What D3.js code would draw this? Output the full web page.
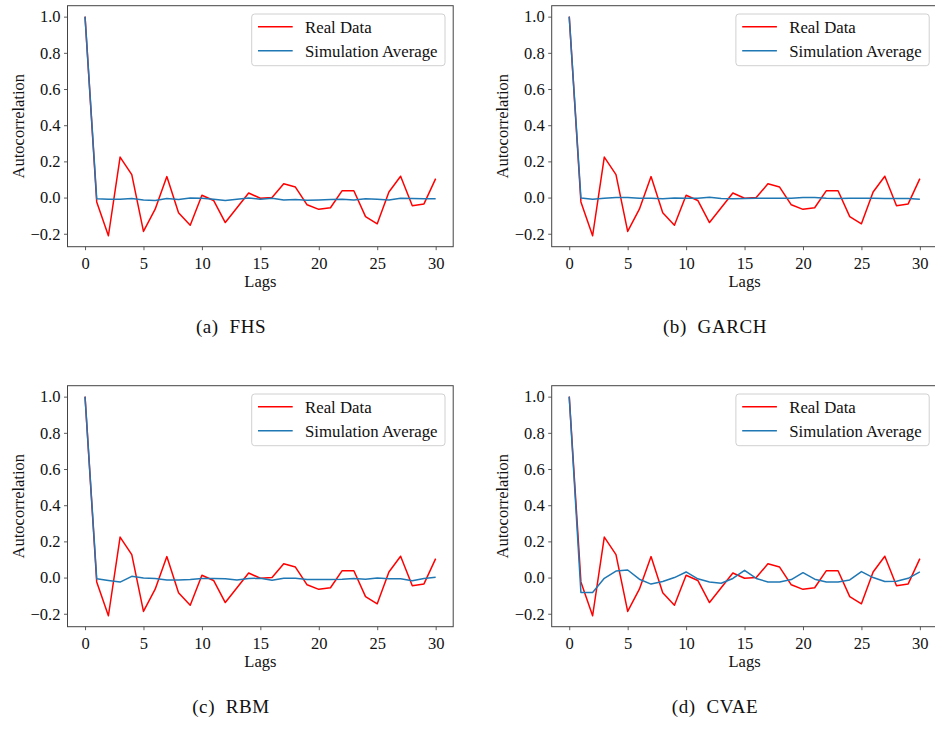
<!DOCTYPE html>
<html><head><meta charset="utf-8">
<script src="https://cdn.jsdelivr.net/npm/d3@7"></script>
<style>body{margin:0;background:#fff}svg{display:block}</style>
</head><body>
<svg id="c" width="935" height="729"></svg>
<script>
const lags = d3.range(0, 31);
const realData = [1.0,-0.024,-0.211,0.224,0.127,-0.187,-0.064,0.116,-0.084,-0.153,0.013,-0.016,-0.138,-0.056,0.025,-0.004,0.0,0.076,0.058,-0.04,-0.065,-0.056,0.038,0.038,-0.105,-0.145,0.031,0.118,-0.045,-0.035,0.105];
const simFHS = [1.0,-0.007,-0.009,-0.009,-0.005,-0.013,-0.016,-0.005,-0.011,-0.002,-0.004,-0.009,-0.016,-0.009,-0.002,-0.009,-0.004,-0.013,-0.011,-0.015,-0.013,-0.011,-0.009,-0.013,-0.007,-0.009,-0.013,-0.004,-0.005,-0.007,-0.007];
const simGARCH = [1.0,-0.002,-0.009,-0.004,0.0,0.0,-0.004,-0.004,-0.007,-0.002,-0.004,-0.004,0.002,-0.005,-0.007,-0.005,-0.004,-0.004,-0.004,-0.004,0.0,0.0,-0.004,-0.005,-0.004,-0.004,-0.004,-0.005,-0.005,-0.005,-0.009];
const simRBM = [1.0,-0.007,-0.016,-0.025,0.007,-0.002,-0.005,-0.013,-0.013,-0.011,-0.005,-0.005,-0.007,-0.013,-0.005,-0.004,-0.015,-0.004,-0.004,-0.011,-0.011,-0.011,-0.009,-0.005,-0.009,-0.002,-0.007,-0.007,-0.018,-0.005,0.002];
const simCVAE = [1.0,-0.082,-0.082,-0.004,0.036,0.042,-0.009,-0.036,-0.022,0.0,0.031,-0.007,-0.025,-0.031,-0.005,0.040,-0.005,-0.024,-0.025,-0.011,0.027,-0.009,-0.025,-0.025,-0.013,0.033,0.0,-0.022,-0.02,-0.004,0.031];
const panelNames = ["(a)  FHS","(b)  GARCH","(c)  RBM","(d)  CVAE"];
const simSeries = [simFHS, simGARCH, simRBM, simCVAE];
const xTicks = [0,5,10,15,20,25,30];
const yTicks = [-0.2,0,0.2,0.4,0.6,0.8,1.0];
const legendLabels = ["Real Data","Simulation Average"];

const svg = d3.select("#c");
const font = "'Liberation Serif', 'DejaVu Serif', serif";
const W = 385.7, H = 241;
const origins = [[67.5,5.7],[551.7,5.7],[67.5,385.7],[551.7,385.7]];
const captionX = [231, 715, 231, 715];
const fmt = v => (v < 0 ? "\u2212" : "") + Math.abs(v).toFixed(1);

panelNames.forEach((name, i) => {
  const [ox, oy] = origins[i];
  const g = svg.append("g").attr("transform", `translate(${ox},${oy})`);
  const x = d3.scaleLinear().domain([-1.5, 31.5]).range([0, W]);
  const ymin = -0.211, ymax = 1.0, pad = (ymax - ymin) * 0.05;
  const y = d3.scaleLinear().domain([ymin - pad, ymax + pad]).range([H, 0]);

  const line = d3.line().x((d, j) => x(lags[j])).y(d => y(d));
  g.append("path").datum(realData).attr("d", line).attr("fill","none")
    .attr("stroke","#ff0000").attr("stroke-width",1.5).attr("stroke-linejoin","round");
  g.append("path").datum(simSeries[i]).attr("d", line).attr("fill","none")
    .attr("stroke","#1f77b4").attr("stroke-width",1.5).attr("stroke-linejoin","round");

  const xa = g.append("g").attr("transform", `translate(0,${H})`)
    .call(d3.axisBottom(x).tickValues(xTicks).tickSize(3.5).tickPadding(3.5).tickSizeOuter(0));
  const ya = g.append("g")
    .call(d3.axisLeft(y).tickValues(yTicks).tickFormat(fmt).tickSize(3.5).tickPadding(3.5).tickSizeOuter(0));
  [xa, ya].forEach(a => {
    a.select(".domain").remove();
    a.selectAll("line").attr("stroke","#333").attr("stroke-width",0.8);
    a.selectAll("text").attr("font-family", font).attr("font-size", 16.5).attr("fill","#111");
  });
  xa.selectAll("text").attr("dy","0.95em");

  g.append("rect").attr("width", W).attr("height", H).attr("fill","none")
    .attr("stroke","#444").attr("stroke-width",1);

  g.append("text").attr("x", x(15)).attr("y", H + 40).attr("text-anchor","middle")
    .attr("font-family", font).attr("font-size", 16.5).attr("fill","#111").text("Lags");
  g.append("text").attr("transform", `translate(${-44},${H/2}) rotate(-90)`).attr("text-anchor","middle")
    .attr("font-family", font).attr("font-size", 16.5).attr("fill","#111").text("Autocorrelation");

  // legend
  const lg = g.append("g").attr("transform", `translate(${W - 201.5},8.3)`);
  lg.append("rect").attr("width",193.3).attr("height",51.7).attr("rx",3)
    .attr("fill","#fff").attr("fill-opacity",0.8).attr("stroke","#d0d0d0").attr("stroke-width",1);
  const cols = ["#ff0000","#1f77b4"];
  legendLabels.forEach((lab, k) => {
    const ly = 12.7 + k * 24;
    lg.append("line").attr("x1",6.3).attr("x2",41).attr("y1",ly).attr("y2",ly)
      .attr("stroke",cols[k]).attr("stroke-width",1.5);
    lg.append("text").attr("x",53.3).attr("y",ly).attr("dy","0.35em")
      .attr("font-family", font).attr("font-size",16.8).attr("fill","#111").text(lab);
  });

  svg.append("text").attr("x", captionX[i]).attr("y", oy + 320.3).attr("dy","0.35em")
    .attr("text-anchor","middle").attr("font-family", font).attr("font-size",19)
    .attr("letter-spacing",0.6)
    .attr("fill","#111").attr("xml:space","preserve").style("white-space","pre").text(name);
});
</script>
</body></html>
